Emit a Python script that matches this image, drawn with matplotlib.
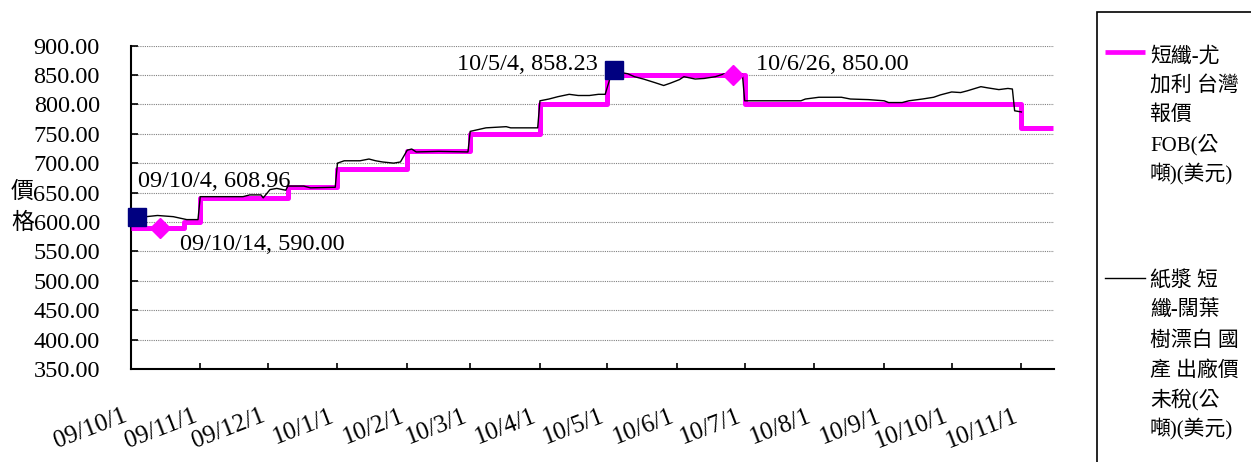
import numpy as np
import matplotlib
matplotlib.use("Agg")
import matplotlib.pyplot as plt
from matplotlib.patches import Rectangle
from matplotlib.lines import Line2D
from matplotlib.transforms import ScaledTranslation

# 短纖-尤加利 台灣報價 FOB (step quote, value holds until next change)
quote_dates = ["2009-10-01", "2009-10-25", "2009-11-01", "2009-12-10", "2010-01-01",
               "2010-02-01", "2010-03-01", "2010-04-01", "2010-05-01", "2010-07-01",
               "2010-11-01", "2010-11-15"]
quote_values = [590, 600, 640, 660, 690, 720, 750, 800, 850, 800, 760, 760]

# 紙漿 短纖-闊葉樹漂白 國產出廠價未稅
pulp_dates = [
    "2009-10-01", "2009-10-04", "2009-10-08", "2009-10-13", "2009-10-20", "2009-10-26", "2009-10-31",
    "2009-11-01", "2009-11-14", "2009-11-20", "2009-11-23", "2009-11-28", "2009-11-29", "2009-12-02",
    "2009-12-05", "2009-12-09", "2009-12-10", "2009-12-17", "2009-12-20", "2009-12-31",
    "2010-01-01", "2010-01-04", "2010-01-11", "2010-01-15", "2010-01-18", "2010-01-21", "2010-01-26",
    "2010-01-29", "2010-02-01", "2010-02-03", "2010-02-05", "2010-02-15", "2010-02-28",
    "2010-03-01", "2010-03-08", "2010-03-17", "2010-03-19", "2010-03-31",
    "2010-04-01", "2010-04-05", "2010-04-09", "2010-04-14", "2010-04-18", "2010-04-23", "2010-04-27",
    "2010-04-30", "2010-05-03", "2010-05-04", "2010-05-07", "2010-05-10", "2010-05-13", "2010-05-17",
    "2010-05-22", "2010-05-26", "2010-05-29", "2010-06-02", "2010-06-04", "2010-06-09", "2010-06-13",
    "2010-06-18", "2010-06-22", "2010-06-30",
    "2010-07-01", "2010-07-26", "2010-07-28", "2010-08-03", "2010-08-13", "2010-08-17", "2010-08-25",
    "2010-09-01", "2010-09-03", "2010-09-09", "2010-09-12", "2010-09-18", "2010-09-23", "2010-09-26",
    "2010-10-01", "2010-10-05", "2010-10-08", "2010-10-14", "2010-10-17", "2010-10-22", "2010-10-26",
    "2010-10-28", "2010-10-29", "2010-11-01",
]
pulp_values = [
    610, 608.96, 609, 611, 609, 604, 604,
    643, 643, 643, 646, 646, 641, 655,
    657, 654, 661, 661, 658, 659,
    700, 704, 704, 707, 704, 702, 700,
    702, 722, 724, 719, 720, 719,
    754, 760, 762, 760, 760,
    806, 809, 813, 817, 815, 815, 817,
    817, 855, 858.23, 854, 852, 847, 843,
    837, 832, 836, 842, 847, 843, 844,
    847, 852, 851,
    806, 806, 809, 812, 812, 809, 808,
    806, 803, 803, 806, 809, 812, 816,
    821, 820, 823, 830, 828, 825, 827,
    826, 789, 787,
]

# labelled points
pulp_mark_dates = ["2009-10-04", "2010-05-04"]
pulp_mark_values = [608.96, 858.23]
quote_mark_dates = ["2009-10-14", "2010-06-26"]
quote_mark_values = [590.00, 850.00]

tick_dates = ["2009-10-01", "2009-11-01", "2009-12-01", "2010-01-01", "2010-02-01", "2010-03-01",
              "2010-04-01", "2010-05-01", "2010-06-01", "2010-07-01", "2010-08-01", "2010-09-01",
              "2010-10-01", "2010-11-01"]
tick_labels = ["09/10/1", "09/11/1", "09/12/1", "10/1/1", "10/2/1", "10/3/1", "10/4/1",
               "10/5/1", "10/6/1", "10/7/1", "10/8/1", "10/9/1", "10/10/1", "10/11/1"]

y_ticks = [350, 400, 450, 500, 550, 600, 650, 700, 750, 800, 850, 900]

legend_quote = ["短纖-尤", "加利 台灣", "報價", "FOB(公", "噸)(美元)"]
legend_pulp = ["紙漿 短", "纖-闊葉", "樹漂白 國", "產 出廠價", "未稅(公", "噸)(美元)"]

SERIF = "Liberation Serif"
CJK = ["Liberation Serif", "Noto Sans CJK TC"]


def to_dt(lst):
    return np.array(lst, dtype="datetime64[D]")


def short_label(d):
    y, m, dd = str(d).split("-")
    return f"{y[2:]}/{int(m)}/{int(dd)}"


W, H, DPI = 1251, 462, 100
fig = plt.figure(figsize=(W / DPI, H / DPI), dpi=DPI)
ax = fig.add_axes([130.5 / W, 1 - 369 / H, (1054 - 130.5) / W, (369 - 45.5) / H])

ax.plot(to_dt(quote_dates), quote_values, drawstyle="steps-post", color="#FF00FF",
        lw=3.6, solid_capstyle="butt", zorder=3)
ax.plot(to_dt(pulp_dates), pulp_values, color="black", lw=1.0, zorder=4)

ax.plot(to_dt(pulp_mark_dates), pulp_mark_values, ls="none", marker="s", ms=13,
        color="#000080", zorder=6, clip_on=False)
ax.plot(to_dt(quote_mark_dates), quote_mark_values, ls="none", marker="D", ms=10,
        color="#FF00FF", zorder=6, clip_on=False)

# data labels for the marked points
offsets = [((1, 30), "left"), ((-16, 0), "right")]
for d, v, (off, ha) in zip(pulp_mark_dates, pulp_mark_values, offsets):
    ax.annotate(f"{short_label(d)}, {v:.2f}", (np.datetime64(d), v), xytext=off,
                textcoords="offset pixels", ha=ha, va="baseline",
                fontsize=17.5, family=SERIF, zorder=7)
offsets = [((20, -22), "left"), ((23, 5), "left")]
for d, v, (off, ha) in zip(quote_mark_dates, quote_mark_values, offsets):
    ax.annotate(f"{short_label(d)}, {v:.2f}", (np.datetime64(d), v), xytext=off,
                textcoords="offset pixels", ha=ha, va="baseline",
                fontsize=17.5, family=SERIF, zorder=7)

ax.set_xlim(np.datetime64("2009-10-01"), np.datetime64("2010-11-15T12:00"))
ax.set_ylim(350, 900)

ax.tick_params(axis="y", direction="in", length=5, width=1.2, pad=22)
ax.tick_params(axis="x", direction="in", length=4.5, width=1.2, pad=26)

ax.set_yticks(y_ticks, [f"{v:.2f}" for v in y_ticks])
ax.set_xticks(to_dt(tick_dates), tick_labels)
for lab in ax.get_yticklabels():
    lab.set_family(SERIF)
    lab.set_fontsize(17.5)
shift = ScaledTranslation(-0.08, 0, fig.dpi_scale_trans)
for lab in ax.get_xticklabels():
    lab.set_family(SERIF)
    lab.set_fontsize(18)
    lab.set_rotation(21)
    lab.set_ha("right")
    lab.set_va("top")
    lab.set_rotation_mode("anchor")
    lab.set_transform(lab.get_transform() + shift)

ax.grid(axis="y", color="#808080", lw=0.8, ls=(0, (1, 1)))
ax.set_axisbelow(True)
for side in ("top", "right"):
    ax.spines[side].set_visible(False)
for side in ("left", "bottom"):
    ax.spines[side].set_linewidth(1.5)

# vertical axis title, one character per line
fig.text(22.5 / W, 1 - 192.5 / H, "價", family=CJK, fontsize=16.5, ha="center", va="center")
fig.text(22.5 / W, 1 - 223 / H, "格", family=CJK, fontsize=16.5, ha="center", va="center")

# legend panel
fig.add_artist(Rectangle((1097.3 / W, -0.1), 0.2, 1 - 11.7 / H + 0.1, transform=fig.transFigure,
                         fill=False, ec="black", lw=1.2, clip_on=False))
fig.add_artist(Line2D([1105 / W, 1145 / W], [1 - 51.7 / H] * 2, transform=fig.transFigure,
                      color="#FF00FF", lw=3.4, solid_capstyle="butt"))
fig.add_artist(Line2D([1105 / W, 1145 / W], [1 - 278.3 / H] * 2, transform=fig.transFigure,
                      color="black", lw=1.0))
quote_rows = [56.7, 86, 115.5, 145, 174]
for y, t in zip(quote_rows, legend_quote):
    fig.text(1150 / W, 1 - y / H, t, family=CJK, fontsize=15, ha="left", va="center")
pulp_rows = [281, 311, 341, 371, 400, 429]
for y, t in zip(pulp_rows, legend_pulp):
    fig.text(1150 / W, 1 - y / H, t, family=CJK, fontsize=15, ha="left", va="center")

fig.savefig("out.png", dpi=DPI)
